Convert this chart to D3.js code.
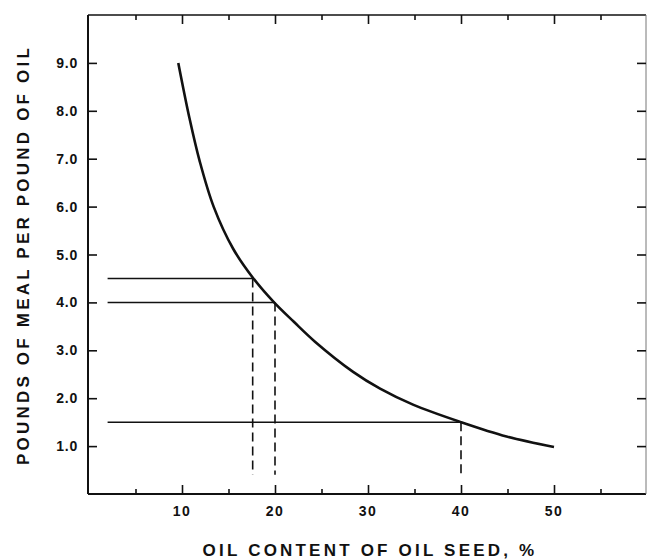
<!DOCTYPE html>
<html><head><meta charset="utf-8">
<script src="https://cdn.jsdelivr.net/npm/d3@7"></script>
<style>
html,body{margin:0;padding:0;background:#fff;}
svg text{font-family:"Liberation Sans",Arial,sans-serif;font-weight:bold;fill:#111;}
</style></head>
<body>
<svg id="chart" width="647" height="559"></svg>
<script>
// Data
const curveX = [9.6, 10.8, 11.9, 13.4, 15.5, 17.6, 19.9, 22, 24.3, 28.4, 31.3, 34.9, 40, 44.9, 50];
const curveY = [9.0, 7.85, 6.95, 6.0, 5.12, 4.52, 4.0, 3.6, 3.18, 2.55, 2.2, 1.86, 1.5, 1.2, 0.98];
const refY = [4.5, 4.0, 1.5];
const refXStart = [2, 2, 2];
const refXEnd = [17.6, 20, 40];
const dashBottom = [0.4, 0.4, 0.4];
const xTicksMajor = [10, 20, 30, 40, 50];
const xTicksMinor = [5, 15, 25, 35, 45, 55];
const yTicks = [1, 2, 3, 4, 5, 6, 7, 8, 9];
const xTitle = "OIL CONTENT OF OIL SEED, %";
const yTitle = "POUNDS OF MEAL PER POUND OF OIL";

const svg = d3.select("#chart");
const L = 88, R = 646, T = 15, B = 494;
const x = d3.scaleLinear().domain([0, 60]).range([89, 647]);
const y = d3.scaleLinear().domain([0, 10]).range([B, T]);

// frame
svg.append("line").attr("x1", L).attr("x2", L).attr("y1", T).attr("y2", B).attr("stroke", "#111").attr("stroke-width", 2);
svg.append("line").attr("x1", L).attr("x2", R).attr("y1", B).attr("y2", B).attr("stroke", "#111").attr("stroke-width", 2);
svg.append("line").attr("x1", L).attr("x2", R).attr("y1", T).attr("y2", T).attr("stroke", "#111").attr("stroke-width", 1.6);
svg.append("line").attr("x1", R).attr("x2", R).attr("y1", T).attr("y2", B).attr("stroke", "#777").attr("stroke-width", 1);

// axes via d3 axis generators (inward ticks)
const bottomMajor = d3.axisTop(x).tickValues(xTicksMajor).tickSize(9).tickFormat("");
const bottomMinor = d3.axisTop(x).tickValues(xTicksMinor).tickSize(5).tickFormat("");
const topMajor = d3.axisBottom(x).tickValues(xTicksMajor).tickSize(9).tickFormat("");
const topMinor = d3.axisBottom(x).tickValues(xTicksMinor).tickSize(5).tickFormat("");
const leftAx = d3.axisRight(y).tickValues(yTicks).tickSize(9).tickFormat("");
const rightAx = d3.axisLeft(y).tickValues(yTicks).tickSize(9).tickFormat("");

function styleAxis(g){ g.select(".domain").remove(); g.selectAll(".tick line").attr("stroke","#111").attr("stroke-width",1.6); }
svg.append("g").attr("transform", `translate(0,${B})`).call(bottomMajor).call(styleAxis);
svg.append("g").attr("transform", `translate(0,${B})`).call(bottomMinor).call(styleAxis);
svg.append("g").attr("transform", `translate(0,${T})`).call(topMajor).call(styleAxis);
svg.append("g").attr("transform", `translate(0,${T})`).call(topMinor).call(styleAxis);
svg.append("g").attr("transform", `translate(${L},0)`).call(leftAx).call(styleAxis);
svg.append("g").attr("transform", `translate(${R},0)`).call(rightAx).call(styleAxis);

// tick labels
svg.append("g").selectAll("text").data(xTicksMajor).join("text")
  .attr("x", d => x(d)).attr("y", 516).attr("text-anchor", "middle")
  .attr("font-size", 14).attr("letter-spacing", 1.5).text(d => d);
svg.append("g").selectAll("text").data(yTicks).join("text")
  .attr("x", 78).attr("y", d => y(d) + 5).attr("text-anchor", "end")
  .attr("font-size", 14).attr("letter-spacing", 0.8).text(d => d.toFixed(1));

// titles
svg.append("text").attr("x", 370).attr("y", 556).attr("text-anchor", "middle")
  .attr("font-size", 17).attr("letter-spacing", 3.2).text(xTitle);
svg.append("text").attr("transform", "translate(29,255) rotate(-90)").attr("text-anchor", "middle")
  .attr("font-size", 17).attr("letter-spacing", 3.2).text(yTitle);

// reference lines
const refs = refY.map((v, i) => ({y: v, x0: refXStart[i], x1: refXEnd[i], yb: dashBottom[i]}));
svg.append("g").selectAll("line").data(refs).join("line")
  .attr("x1", d => x(d.x0)).attr("x2", d => x(d.x1))
  .attr("y1", d => y(d.y)).attr("y2", d => y(d.y))
  .attr("stroke", "#111").attr("stroke-width", 1.5);
svg.append("g").selectAll("line").data(refs).join("line")
  .attr("x1", d => x(d.x1)).attr("x2", d => x(d.x1))
  .attr("y1", d => y(d.y)).attr("y2", d => y(d.yb))
  .attr("stroke", "#111").attr("stroke-width", 1.6).attr("stroke-dasharray", "9,5");

// curve
const pts = curveX.map((v, i) => [v, curveY[i]]);
svg.append("path").datum(pts)
  .attr("d", d3.line().x(d => x(d[0])).y(d => y(d[1])).curve(d3.curveCatmullRom.alpha(0.5)))
  .attr("fill", "none").attr("stroke", "#111").attr("stroke-width", 2.6);
</script>
</body></html>
